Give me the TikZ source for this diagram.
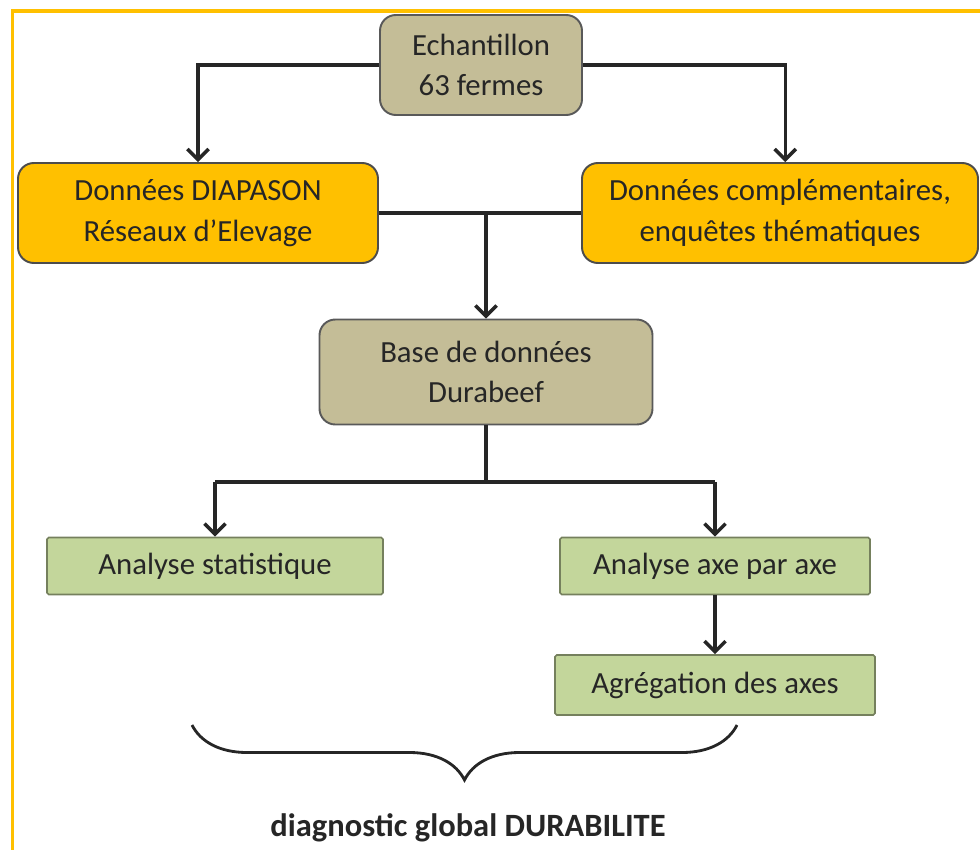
\documentclass[tikz,border=0pt]{standalone}
\usepackage{fontspec}
\setmainfont{Carlito}
\usetikzlibrary{arrows.meta,decorations.pathreplacing}
\definecolor{tanbox}{HTML}{C4BD97}
\definecolor{goldbox}{HTML}{FFC000}
\definecolor{greenbox}{HTML}{C3D69B}
\definecolor{frameline}{HTML}{FFC000}

\begin{document}
\begin{tikzpicture}[
  tanstyle/.style={rectangle,rounded corners=9pt,draw=black!65,line width=1.1pt,fill=tanbox,align=center,text=black!85,font=\fontsize{17.5}{23}\selectfont},
  goldstyle/.style={rectangle,rounded corners=9pt,draw=black!70,line width=1.1pt,fill=goldbox,align=center,text=black!85,font=\fontsize{17.5}{23}\selectfont},
  greenstyle/.style={rectangle,rounded corners=1pt,draw=greenbox!60!black,line width=0.9pt,fill=greenbox,align=center,text=black!85,font=\fontsize{17.5}{23}\selectfont},
  link/.style={draw,line width=2pt,black!85},
  arrowlink/.style={link,-{Straight Barb[length=6pt,width=12pt,line width=2pt]}}]
\useasboundingbox (0,0) rectangle (19.6,-17);
\draw[frameline,line width=1.8pt] (19.6,-0.22) -- (0.25,-0.22) -- (0.25,-17);
\node[tanstyle,minimum width=4.04cm,minimum height=2cm] (ech) at (9.62,-1.3) {Echantillon\\63 fermes};
\node[goldstyle,minimum width=7.2cm,minimum height=2cm] (diap) at (3.96,-4.26) {Données DIAPASON\\Réseaux d’Elevage};
\node[goldstyle,minimum width=7.92cm,minimum height=2cm] (comp) at (15.6,-4.26) {Données complémentaires,\\enquêtes thématiques};
\node[tanstyle,minimum width=6.66cm,minimum height=2.1cm] (base) at (9.72,-7.44) {Base de données\\Durabeef};
\node[greenstyle,minimum width=6.72cm,minimum height=1.14cm] (stat) at (4.3,-11.32) {Analyse statistique};
\node[greenstyle,minimum width=6.2cm,minimum height=1.14cm] (axe) at (14.3,-11.32) {Analyse axe par axe};
\node[greenstyle,minimum width=6.4cm,minimum height=1.2cm] (agreg) at (14.3,-13.7) {Agrégation des axes};
\node[font=\fontsize{18.5}{20}\selectfont\bfseries,text=black!85] (diag) at (9.36,-16.56) {diagnostic global DURABILITE};
\coordinate (m1) at (diap.east -| base.north);
\coordinate (m2) at (9.72,-9.64);
\path[arrowlink] (ech.west) -| (diap.north);
\path[arrowlink] (ech.east) -| ([xshift=3pt]comp.north);
\path[link] (diap.east) -- (comp.west);
\path[arrowlink] (m1) -- (base.north);
\path[link] (base.south) -- (m2);
\path[link] (stat.north |- m2) -- (axe.north |- m2);
\path[arrowlink] (stat.north |- m2) -- (stat.north);
\path[arrowlink] (axe.north |- m2) -- (axe.north);
\path[arrowlink] (axe.south) -- (agreg.north);
\draw[decorate,decoration={brace,mirror,amplitude=1.1cm,aspect=0.5},line width=1.6pt,black!85] (3.84,-14.5) -- (14.74,-14.5);
\end{tikzpicture}
\end{document}
